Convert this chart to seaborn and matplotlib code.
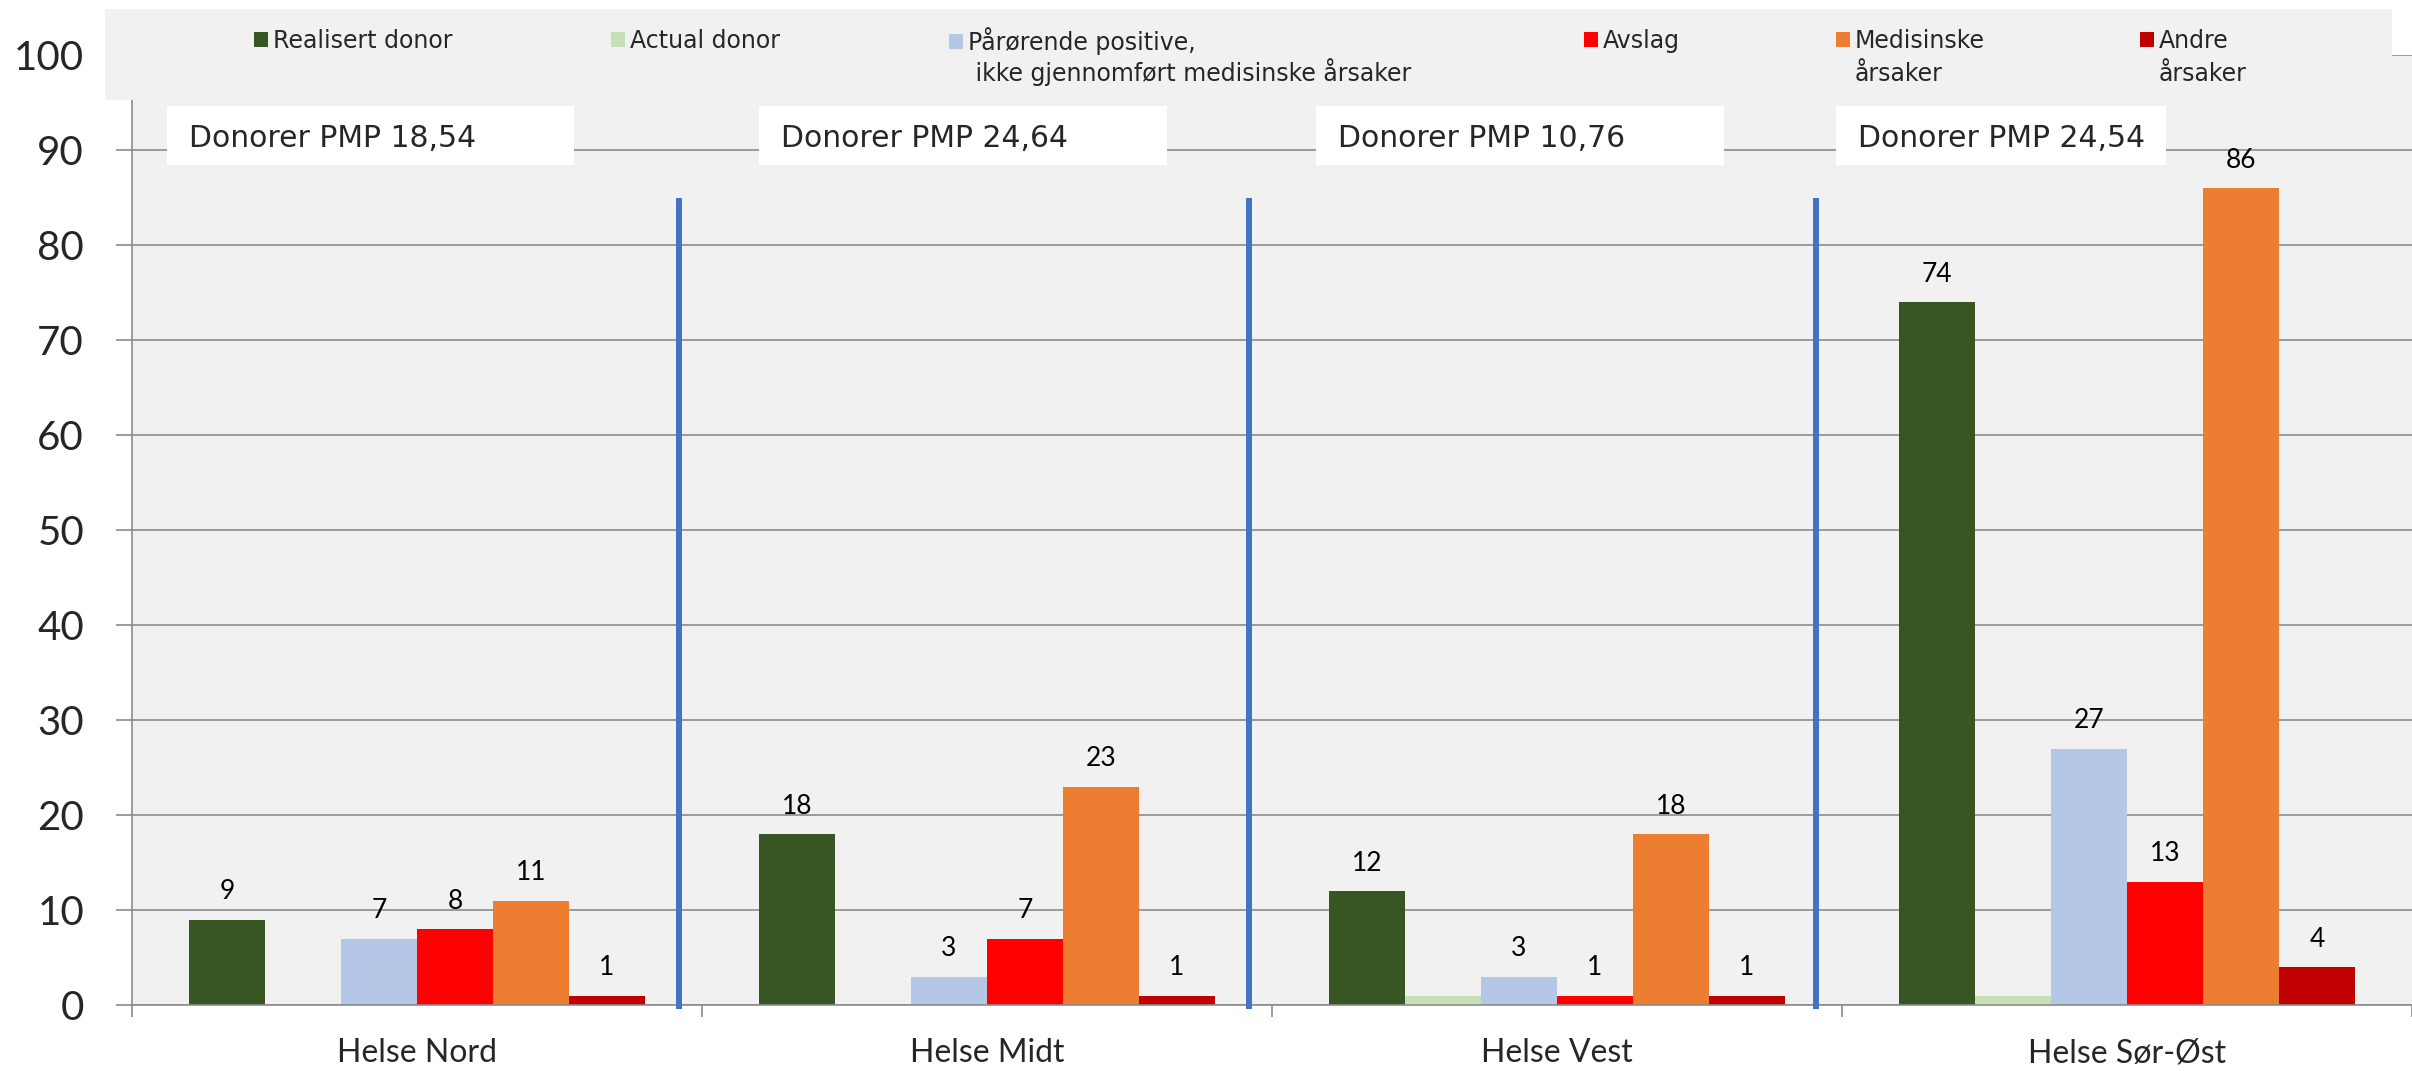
import numpy as np
import pandas as pd
import matplotlib
matplotlib.use("Agg")
import matplotlib.pyplot as plt
from matplotlib.patches import Rectangle
import seaborn as sns

# ---------------- data ----------------
regions = ["Helse Nord", "Helse Midt", "Helse Vest", "Helse Sør-Øst"]
categories = [
    "Realisert donor",
    "Actual donor",
    "Pårørende positive,\n ikke gjennomført medisinske årsaker",
    "Avslag",
    "Medisinske\nårsaker",
    "Andre\nårsaker",
]
realisert = [9, 18, 12, 74]
actual = [0, 0, 1, 1]
paarorende = [7, 3, 3, 27]
avslag = [8, 7, 1, 13]
medisinske = [11, 23, 18, 86]
andre = [1, 1, 1, 4]
pmp_values = ["18,54", "24,64", "10,76", "24,54"]
colors = ["#375623", "#c5e0b4", "#b4c7e7", "#ff0000", "#ed7d31", "#c00000"]
y_ticks = list(range(0, 101, 10))

series = [realisert, actual, paarorende, avslag, medisinske, andre]
rows = []
for cat, vals in zip(categories, series):
    for reg, v in zip(regions, vals):
        rows.append({"region": reg, "kategori": cat, "antall": v})
df = pd.DataFrame(rows)

# ---------------- figure ----------------
W, H = 2412, 1071
sns.set_theme(style="white")
plt.rcParams["font.family"] = ["Lato", "DejaVu Sans"]

fig = plt.figure(figsize=(W / 100, H / 100), dpi=100)
fig.patch.set_facecolor("white")


def fx(px):
    return px / W


def fy(py):
    return 1 - py / H


ax = fig.add_axes([fx(132), fy(1005), 1 - fx(132), (1005 - 55) / H])
ax.set_facecolor("#f1f1f1")

sns.barplot(data=df, x="region", y="antall", hue="kategori", order=regions,
            hue_order=categories, palette=colors, errorbar=None, width=0.8,
            linewidth=0, saturation=1, ax=ax, zorder=2)

# data labels (Actual donor not labelled)
for i, cont in enumerate(ax.containers):
    if i == 1:
        continue
    ax.bar_label(cont, labels=[f"{int(v)}" for v in cont.datavalues],
                 padding=11, fontsize=19, family="Lato", color="black")

# axes styling
ax.set_ylim(0, 100)
ax.set_yticks(y_ticks)
ax.set_xlim(-0.5, len(regions) - 0.5)
ax.set_xlabel("")
ax.set_ylabel("")
ax.yaxis.grid(True, color="#8c8c8c", linewidth=1.2)
ax.xaxis.grid(False)
ax.set_axisbelow(True)
for s in ["top", "right"]:
    ax.spines[s].set_visible(False)
for s in ["left", "bottom"]:
    ax.spines[s].set_color("#8c8c8c")
    ax.spines[s].set_linewidth(1.2)
ax.tick_params(axis="y", length=11.5, width=1.2, color="#8c8c8c", pad=23,
               labelsize=29, left=True)
ax.set_xticks(np.arange(-0.5, len(regions), 1.0), minor=True)
ax.tick_params(axis="x", which="minor", length=8.6, width=1.2, color="#8c8c8c",
               bottom=True)
ax.tick_params(axis="x", which="major", length=0, pad=24, labelsize=23)

# blue separators between regions
separator_x = [0.46, 1.46, 2.455]
ax.vlines(separator_x, -0.4, 84.9, colors="#4472c4", linewidth=4.3,
          clip_on=False, zorder=4)

# legend background
fig.add_artist(Rectangle((fx(105), fy(100)), (2392 - 105) / W, (100 - 9) / H,
                         transform=fig.transFigure, facecolor="#f1f1f1",
                         edgecolor="none", zorder=4))

leg0 = ax.get_legend()
handles = list(leg0.legend_handles)
labels = [t.get_text() for t in leg0.get_texts()]
leg0.remove()

legend_x = [254, 611, 949, 1584, 1836, 2140]
fs = 17
fs_px = fs * 100 / 72
for h, lab, x in zip(handles, labels, legend_x):
    first, *rest = lab.split("\n")
    leg = fig.legend([h], [first], loc="center left",
                     bbox_to_anchor=(fx(x), fy(41)), frameon=False,
                     prop={"family": "DejaVu Sans", "size": fs},
                     handlelength=0.6, handleheight=0.62, handletextpad=0.2,
                     borderpad=0, borderaxespad=0)
    leg.set_zorder(6)
    if rest:
        fig.text(fx(x + (0.6 + 0.2) * fs_px), fy(81), "\n".join(rest),
                 fontsize=fs, family="DejaVu Sans", va="baseline", ha="left",
                 zorder=6)

# "Donorer PMP" boxes
box_x = [(167, 574), (759, 1167), (1316, 1724), (1836, 2166)]
for (x0, x1), v in zip(box_x, pmp_values):
    fig.add_artist(Rectangle((fx(x0), fy(165)), (x1 - x0) / W, (165 - 106) / H,
                             transform=fig.transFigure, facecolor="white",
                             edgecolor="none", zorder=5))
    fig.text(fx(x0 + 22), fy(147), f"Donorer PMP {v}", fontsize=21.5,
             family="DejaVu Sans", va="baseline", ha="left", zorder=6)

fig.savefig("out.png", dpi=100, facecolor="white")
